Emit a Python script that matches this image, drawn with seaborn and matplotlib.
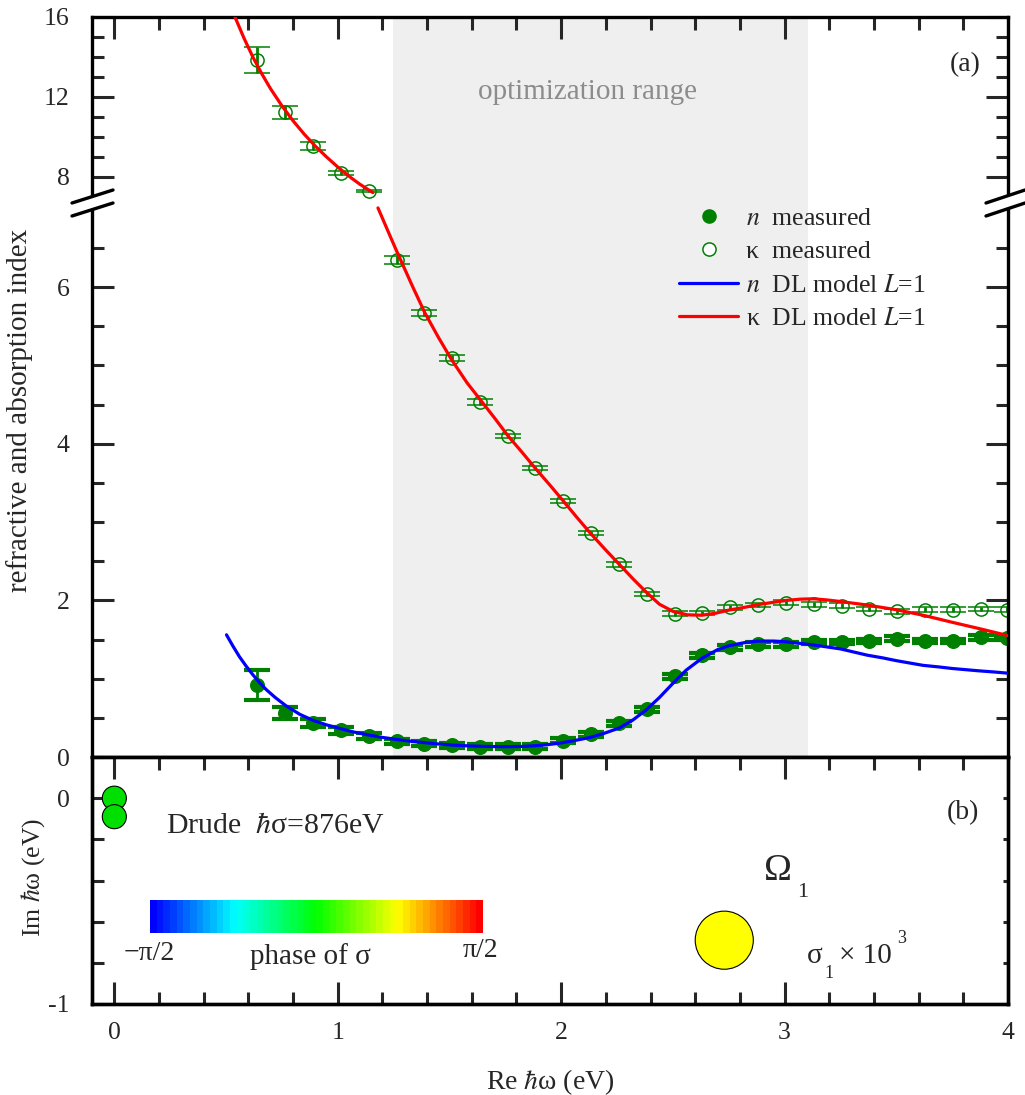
import numpy as np
import matplotlib
matplotlib.use("Agg")
import matplotlib.pyplot as plt
import seaborn as sns
from matplotlib.lines import Line2D
from matplotlib.patches import Polygon
from matplotlib.colors import ListedColormap, hsv_to_rgb
from matplotlib.ticker import FixedLocator, FuncFormatter

# ---------------- data ----------------
energy = [0.640, 0.765, 0.889, 1.014, 1.138, 1.263, 1.387, 1.512, 1.636, 1.761,
          1.885, 2.010, 2.134, 2.259, 2.383, 2.508, 2.632, 2.757, 2.881, 3.006,
          3.130, 3.255, 3.379, 3.504, 3.628, 3.753, 3.877, 3.995]
n_meas = [0.92, 0.56, 0.43, 0.34, 0.27, 0.20, 0.17, 0.15, 0.13, 0.13,
          0.13, 0.21, 0.29, 0.43, 0.61, 1.03, 1.30, 1.40, 1.44, 1.44,
          1.47, 1.47, 1.48, 1.51, 1.48, 1.48, 1.53, 1.52]
n_err = [0.19, 0.08, 0.05, 0.04, 0.035, 0.03, 0.03, 0.03, 0.03, 0.03,
         0.03, 0.03, 0.03, 0.03, 0.03, 0.03, 0.03, 0.03, 0.03, 0.03,
         0.03, 0.03, 0.03, 0.03, 0.03, 0.03, 0.03, 0.03]
k_meas = [13.85, 11.24, 9.55, 8.20, 7.28, 6.35, 5.67, 5.09, 4.53, 4.10,
          3.69, 3.27, 2.86, 2.46, 2.08, 1.83, 1.84, 1.91, 1.94, 1.97,
          1.95, 1.93, 1.89, 1.86, 1.88, 1.88, 1.89, 1.88]
k_err = [0.65, 0.33, 0.20, 0.12, 0.05, 0.05, 0.04, 0.04, 0.035, 0.03,
         0.03, 0.03, 0.03, 0.03, 0.03, 0.03, 0.03, 0.03, 0.03, 0.03,
         0.03, 0.03, 0.03, 0.03, 0.03, 0.03, 0.03, 0.03]

# DL model curves
n_model_x = [0.502, 0.53, 0.56, 0.59, 0.62, 0.65, 0.68, 0.72, 0.77, 0.83, 0.89,
             0.95, 1.01, 1.07, 1.13, 1.20, 1.26, 1.33, 1.39, 1.45, 1.51, 1.57,
             1.64, 1.70, 1.76, 1.82, 1.88, 1.94, 2.00, 2.06, 2.13, 2.19, 2.26,
             2.32, 2.38, 2.44, 2.50, 2.56, 2.63, 2.70, 2.75, 2.82, 2.88, 2.95,
             3.01, 3.07, 3.13, 3.19, 3.25, 3.31, 3.37, 3.44, 3.50, 3.56, 3.62,
             3.69, 3.75, 3.81, 3.87, 3.94, 4.00]
n_model_y = [1.56, 1.42, 1.28, 1.16, 1.05, 0.95, 0.86, 0.76, 0.65, 0.545, 0.467,
             0.41, 0.364, 0.32, 0.285, 0.25, 0.225, 0.20, 0.183, 0.166, 0.153, 0.144,
             0.137, 0.133, 0.132, 0.135, 0.143, 0.158, 0.18, 0.21, 0.25, 0.30, 0.37,
             0.47, 0.60, 0.76, 0.94, 1.11, 1.26, 1.37, 1.42, 1.46, 1.48, 1.48,
             1.47, 1.45, 1.43, 1.405, 1.38, 1.34, 1.30, 1.265, 1.23, 1.20, 1.17,
             1.15, 1.13, 1.115, 1.10, 1.085, 1.07]
k_model_hi_x = [0.540, 0.58, 0.62, 0.66, 0.70, 0.75, 0.80, 0.85, 0.90, 0.95,
                1.00, 1.05, 1.10, 1.157]
k_model_hi_y = [16.0, 14.95, 14.0, 13.16, 12.40, 11.56, 10.81, 10.14, 9.54, 9.00,
                8.50, 8.04, 7.63, 7.22]
k_model_lo_x = [1.18, 1.242, 1.265, 1.336, 1.39, 1.45, 1.51, 1.578, 1.641, 1.704,
                1.762, 1.825, 1.883, 1.95, 2.009, 2.07, 2.13, 2.197, 2.26, 2.323,
                2.386, 2.44, 2.50, 2.565, 2.63, 2.69, 2.75, 2.82, 2.88, 2.95,
                3.01, 3.07, 3.13, 3.19, 3.25, 3.37, 3.50, 3.62, 3.75, 3.87, 4.00]
k_model_lo_y = [7.01, 6.60, 6.45, 6.00, 5.67, 5.36, 5.07, 4.78, 4.55, 4.32,
                4.10, 3.89, 3.69, 3.47, 3.27, 3.06, 2.86, 2.65, 2.46, 2.27,
                2.09, 1.95, 1.86, 1.815, 1.81, 1.835, 1.875, 1.91, 1.945, 1.975,
                2.00, 2.015, 2.02, 2.005, 1.985, 1.94, 1.88, 1.81, 1.72, 1.64, 1.55]

opt_range = [1.247, 3.107]

# poles (panel b)
pole_re = [0.0, 0.0, 2.73]
pole_im = [0.0, -0.09, -0.69]
pole_size = [300, 300, 1750]
pole_color = ["#00e000", "#00e000", "#ffff00"]

ya_major = [0, 2, 4, 6, 8, 12, 16]
ya_minor = [0.5, 1, 1.5, 2.5, 3, 3.5, 4.5, 5, 5.5, 6.5, 9, 10, 11, 13, 14, 15]
x_major = [0, 1, 2, 3, 4]
x_minor = [0.2, 0.4, 0.6, 0.8, 1.2, 1.4, 1.6, 1.8, 2.2, 2.4, 2.6, 2.8,
           3.2, 3.4, 3.6, 3.8]
yb_major = [0, -1]
yb_minor = [0.2, -0.2, -0.4, -0.6, -0.8]

# ---------------- style ----------------
sns.set_theme(style="ticks")
plt.rcParams["font.family"] = ["Liberation Serif", "DejaVu Serif"]
plt.rcParams["mathtext.fontset"] = "stix"
plt.rcParams["axes.unicode_minus"] = False
plt.rcParams["axes.linewidth"] = 2.4
plt.rcParams["axes.edgecolor"] = "black"

GREEN = "#008000"
W, H = 1025, 1095
fig = plt.figure(figsize=(W / 100, H / 100), dpi=100)

def fpos(x0, y0, x1, y1):
    return [x0 / W, 1 - y1 / H, (x1 - x0) / W, (y1 - y0) / H]

ax_a = fig.add_axes(fpos(92, 17, 1008, 757))
ax_b = fig.add_axes(fpos(92, 757, 1008, 1004))

# broken y-scale for panel (a)
B_LO, B_HI = 7.05, 7.2
U_REF, U_POS, U_SLOPE = 8.0, 7.4047, 0.25533
HI_POS = U_POS + (B_HI - U_REF) * U_SLOPE

def fwd(y):
    y = np.asarray(y, dtype=float)
    up = U_POS + (y - U_REF) * U_SLOPE
    mid = B_LO + (y - B_LO) * (HI_POS - B_LO) / (B_HI - B_LO)
    return np.where(y <= B_LO, y, np.where(y >= B_HI, up, mid))

def inv(u):
    u = np.asarray(u, dtype=float)
    up = U_REF + (u - U_POS) / U_SLOPE
    mid = B_LO + (u - B_LO) * (B_HI - B_LO) / (HI_POS - B_LO)
    return np.where(u <= B_LO, u, np.where(u >= HI_POS, up, mid))

ax_a.set_yscale("function", functions=(fwd, inv))

# ---------------- panel (a) ----------------
ax_a.axvspan(opt_range[0], opt_range[1], color="#efefef", lw=0, zorder=0)

ax_a.errorbar(energy, k_meas, yerr=k_err, fmt="o", ms=9.5, mfc="none", mec=GREEN,
              mew=1.1, ecolor=GREEN, elinewidth=2.0, capsize=9.5, capthick=3.0, zorder=2)
ax_a.errorbar(energy, n_meas, yerr=n_err, fmt="o", ms=9.8, mfc=GREEN, mec=GREEN,
              ecolor=GREEN, elinewidth=2.0, capsize=9.5, capthick=3.0, zorder=2)

sns.lineplot(x=n_model_x, y=n_model_y, ax=ax_a, color="blue", lw=2.3,
             estimator=None, sort=False, zorder=3)
sns.lineplot(x=k_model_hi_x, y=k_model_hi_y, ax=ax_a, color="red", lw=2.3,
             estimator=None, sort=False, zorder=3)
sns.lineplot(x=k_model_lo_x, y=k_model_lo_y, ax=ax_a, color="red", lw=2.3,
             estimator=None, sort=False, zorder=3)

ax_a.set_xlim(-0.1, 4.0)
ax_a.set_ylim(0, 16)
ax_a.yaxis.set_major_locator(FixedLocator(ya_major))
ax_a.yaxis.set_minor_locator(FixedLocator(ya_minor))
ax_a.yaxis.set_major_formatter(FuncFormatter(lambda v, p: f"{v:g}"))
ax_a.xaxis.set_major_locator(FixedLocator(x_major))
ax_a.xaxis.set_minor_locator(FixedLocator(x_minor))
ax_a.tick_params(axis="y", which="both", direction="in", left=True, right=True,
                 width=2.2, labelsize=18.5, pad=16)
ax_a.tick_params(axis="y", which="major", length=15.8)
ax_a.tick_params(axis="y", which="minor", length=8.6)
ax_a.tick_params(axis="x", which="both", direction="in", top=True, bottom=False,
                 labelbottom=False, width=2.2)
ax_a.tick_params(axis="x", which="major", length=15.8)
ax_a.tick_params(axis="x", which="minor", length=9.0)
ax_a.set_xlabel("")
ax_a.set_ylabel("refractive and absorption index", fontsize=21)
ax_a.yaxis.set_label_coords(-0.064, 0.469)

ax_a.text(2.12, 12.25, "optimization range", color="#8c8c8c", fontsize=21,
          ha="center", va="center")
ax_a.text(3.81, 13.6, "(a)", fontsize=20, ha="center", va="center")

handles = [
    Line2D([], [], ls="none", marker="o", ms=9.5, mfc=GREEN, mec=GREEN),
    Line2D([], [], ls="none", marker="o", ms=9.5, mfc="white", mec=GREEN, mew=1.1),
    Line2D([], [], color="blue", lw=2.3),
    Line2D([], [], color="red", lw=2.3),
]
labels = ["$n$  measured", "κ  measured", "$n$  DL model $L$=1", "κ  DL model $L$=1"]
ax_a.legend(handles, labels, loc="upper left", frameon=False, fontsize=18.5,
            handlelength=2.3, handletextpad=0.3, labelspacing=0.4,
            borderpad=0, borderaxespad=0,
            bbox_to_anchor=(679 / W, 1 - 207 / H), bbox_transform=fig.transFigure)

# break marks
def px(x, y):
    return (x / W, 1 - y / H)

for xa, xb in [(72, 113), (986, 1025)]:
    poly = Polygon([px(xa, 203), px(xb, 190), px(xb, 203), px(xa, 216)],
                   closed=True, transform=fig.transFigure, facecolor="white",
                   edgecolor="none", zorder=10)
    fig.add_artist(poly)
    for dy in (0, 13):
        p0, p1 = px(xa, 203 + dy), px(xb, 190 + dy)
        fig.add_artist(Line2D([p0[0], p1[0]], [p0[1], p1[1]], color="black",
                              lw=2.4, transform=fig.transFigure, zorder=11))

# ---------------- panel (b) ----------------
phase = np.linspace(-np.pi / 2, np.pi / 2, 50)
hues = np.linspace(2 / 3, 0, 50)
cmap = ListedColormap(hsv_to_rgb(np.stack([hues, np.ones(50), np.ones(50)], axis=1)))
ax_b.imshow(phase[np.newaxis, :], extent=[0.161, 1.650, -0.655, -0.495],
            cmap=cmap, aspect="auto", interpolation="nearest", zorder=1)

sns.scatterplot(x=pole_re, y=pole_im, s=pole_size, c=pole_color, ax=ax_b,
                edgecolor="black", linewidth=0.8, zorder=3, legend=False)

ax_b.set_xlim(-0.1, 4.0)
ax_b.set_ylim(-1, 0.2)
ax_b.xaxis.set_major_locator(FixedLocator(x_major))
ax_b.xaxis.set_minor_locator(FixedLocator(x_minor))
ax_b.xaxis.set_major_formatter(FuncFormatter(lambda v, p: f"{v:g}"))
ax_b.yaxis.set_major_locator(FixedLocator(yb_major))
ax_b.yaxis.set_minor_locator(FixedLocator(yb_minor))
ax_b.yaxis.set_major_formatter(FuncFormatter(lambda v, p: f"{v:g}"))
ax_b.tick_params(axis="x", which="both", direction="in", top=True, bottom=True,
                 width=2.2, labelsize=18.5, pad=13)
ax_b.tick_params(axis="x", which="major", length=15.8)
ax_b.tick_params(axis="x", which="minor", length=9.0)
ax_b.tick_params(axis="y", which="both", direction="in", left=True, right=False,
                 width=2.2, length=8.6, labelsize=18.5, pad=16)
ax_b.set_xlabel("Re $\\hbar$ω (eV)", fontsize=20)
ax_b.xaxis.set_label_coords(0.5, -0.255)
ax_b.set_ylabel("Im $\\hbar$ω (eV)", fontsize=18.5)
ax_b.yaxis.set_label_coords(-0.049, 0.514)

ax_b2 = ax_b.twinx()
ax_b2.set_ylim(-1, 0.2)
ax_b2.yaxis.set_major_locator(FixedLocator(yb_major))
ax_b2.yaxis.set_minor_locator(FixedLocator(yb_minor))
ax_b2.tick_params(axis="y", which="both", direction="in", right=True, length=3.6,
                  width=2.2, labelright=False)
ax_b2.set_ylabel("")

ax_b.text(0.233, -0.170, "Drude  $\\hbar$σ=876eV", fontsize=21.5, ha="left", va="baseline")
ax_b.text(3.80, -0.068, "(b)", fontsize=20, ha="center", va="center")
ax_b.text(0.157, -0.757, "−π/2", fontsize=20, ha="center", va="center")
ax_b.text(0.879, -0.767, "phase of σ", fontsize=21, ha="center", va="center")
ax_b.text(1.64, -0.738, "π/2", fontsize=20, ha="center", va="center")
ax_b.text(2.906, -0.398, "Ω", fontsize=27, ha="left", va="baseline")
ax_b.text(3.058, -0.481, "1", fontsize=16, ha="left", va="baseline")
ax_b.text(3.099, -0.801, "σ", fontsize=21, ha="left", va="baseline")
ax_b.text(3.179, -0.874, "1", fontsize=13, ha="left", va="baseline")
ax_b.text(3.242, -0.801, "× 10", fontsize=21, ha="left", va="baseline")
ax_b.text(3.502, -0.704, "3", fontsize=13, ha="left", va="baseline")

fig.savefig("out.png", dpi=100)
